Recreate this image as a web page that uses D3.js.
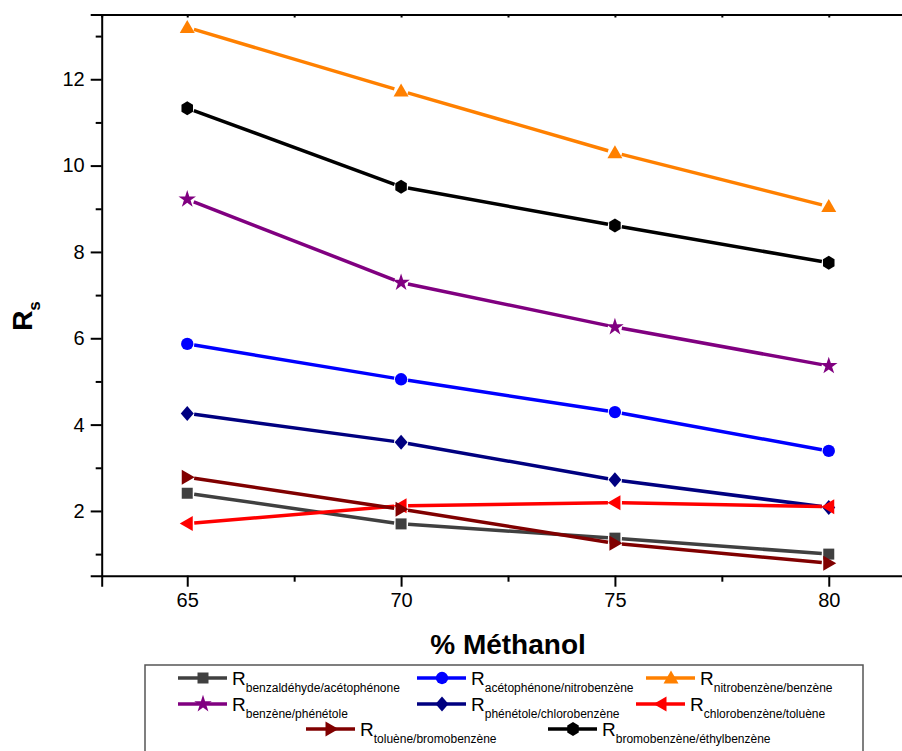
<!DOCTYPE html>
<html>
<head>
<meta charset="utf-8">
<script src="https://cdn.jsdelivr.net/npm/d3@7"></script>
<style>
  html, body { margin: 0; padding: 0; background: #fff; }
  svg { display: block; font-family: "Liberation Sans", Arial, sans-serif; }
</style>
</head>
<body>
<svg id="chart" width="902" height="751"></svg>
<script>
// ---- data ----
const methanol = [65, 70, 75, 80];
const xMajorTicks = [65, 70, 75, 80];
const xMinorTicks = [67.5, 72.5, 77.5];
const yMajorTicks = [2, 4, 6, 8, 10, 12];
const yMinorTicks = [1, 3, 5, 7, 9, 11, 13];

const seriesNames = [
  "benzaldéhyde/acétophénone",
  "acétophénone/nitrobenzène",
  "nitrobenzène/benzène",
  "benzène/phénétole",
  "phénétole/chlorobenzène",
  "chlorobenzène/toluène",
  "toluène/bromobenzène",
  "bromobenzène/éthylbenzène"
];
const rsBenzaldehydeAcetophenone = [2.41, 1.70, 1.37, 1.00];
const rsAcetophenoneNitrobenzene = [5.87, 5.05, 4.29, 3.39];
const rsNitrobenzeneBenzene      = [13.20, 11.73, 10.30, 9.05];
const rsBenzenePhenetole         = [9.22, 7.29, 6.26, 5.36];
const rsPhenetoleChlorobenzene   = [4.26, 3.59, 2.72, 2.08];
const rsChlorobenzeneToluene     = [1.71, 2.12, 2.19, 2.10];
const rsTolueneBromobenzene      = [2.78, 2.04, 1.25, 0.79];
const rsBromobenzeneEthylbenzene = [11.33, 9.51, 8.61, 7.75];

const seriesValues = [
  rsBenzaldehydeAcetophenone, rsAcetophenoneNitrobenzene, rsNitrobenzeneBenzene,
  rsBenzenePhenetole, rsPhenetoleChlorobenzene, rsChlorobenzeneToluene,
  rsTolueneBromobenzene, rsBromobenzeneEthylbenzene
];

// ---- styles ----
const colors = ["#404040", "#0000ff", "#ff8000", "#800080", "#000080", "#ff0000", "#800000", "#000000"];
const shapes = ["square", "circle", "triUp", "star", "diamond", "triLeft", "triRight", "hexagon"];

// ---- layout ----
const svg = d3.select("#chart");
const x = d3.scaleLinear().domain([63, 82]).range([101.7, 914.3]);
const y = d3.scaleLinear().domain([0.5, 13.5]).range([575.7, 14.5]);

function markerPath(shape) {
  switch (shape) {
    case "square": return "M-5.5,-5.5H5.5V5.5H-5.5Z";
    case "circle": return d3.symbol(d3.symbolCircle, 120)();
    case "triUp": return "M0,-7.5L7.5,5.5L-7.5,5.5Z";
    case "triLeft": return "M-7.5,0L5.5,-7.5L5.5,7.5Z";
    case "triRight": return "M7.5,0L-5.5,-7.5L-5.5,7.5Z";
    case "diamond": return "M0,-7.5L6.5,0L0,7.5L-6.5,0Z";
    case "star": return d3.symbol(d3.symbolStar, 95)();
    case "hexagon": {
      const r = 7;
      const pts = d3.range(6).map(i => {
        const a = Math.PI / 3 * i - Math.PI / 2;
        return [r * Math.cos(a) * 0.95, r * Math.sin(a)];
      });
      return "M" + pts.map(p => p.join(",")).join("L") + "Z";
    }
  }
}

// ---- axes ----
const axisColor = "#000";
function styleAxis(g) {
  g.select(".domain").attr("stroke", axisColor).attr("stroke-width", 2);
  g.selectAll(".tick line").attr("stroke", axisColor).attr("stroke-width", 2);
  g.selectAll(".tick text").attr("fill", "#000").style("font-size", "20px")
    .style("font-family", "'Liberation Sans', Arial, sans-serif");
}

// bottom axis major
const gx = svg.append("g").attr("transform", "translate(0,575.7)")
  .call(d3.axisBottom(x).tickValues(xMajorTicks).tickSize(11).tickPadding(6).tickFormat(d3.format("d")));
styleAxis(gx);
// bottom minor
const gxm = svg.append("g").attr("transform", "translate(0,575.7)")
  .call(d3.axisBottom(x).tickValues(xMinorTicks).tickSize(6).tickFormat(""));
styleAxis(gxm);
gxm.select(".domain").remove();

// top axis
const gt = svg.append("g").attr("transform", "translate(0,14.5)")
  .call(d3.axisTop(x).tickValues(xMajorTicks.concat(xMinorTicks)).tickSize(-3).tickFormat(""));
styleAxis(gt);

// left axis major
const gy = svg.append("g").attr("transform", "translate(101.7,0)")
  .call(d3.axisLeft(y).tickValues(yMajorTicks).tickSize(11).tickPadding(6).tickFormat(d3.format("d")));
styleAxis(gy);
const gym = svg.append("g").attr("transform", "translate(101.7,0)")
  .call(d3.axisLeft(y).tickValues(yMinorTicks).tickSize(6).tickFormat(""));
styleAxis(gym);
gym.select(".domain").remove();

// axis titles
svg.append("text")
  .attr("x", 508).attr("y", 654)
  .attr("text-anchor", "middle")
  .style("font-size", "28px").style("font-weight", "bold")
  .text("% Méthanol");

const ylab = svg.append("text")
  .attr("transform", "translate(32,316) rotate(-90)")
  .attr("text-anchor", "middle")
  .style("font-size", "28px").style("font-weight", "bold");
ylab.append("tspan").text("R");
ylab.append("tspan").attr("dy", 8).style("font-size", "17px").text("s");

// ---- series ----
const gap = 7;
seriesValues.forEach((vals, si) => {
  const pts = vals.map((v, i) => [x(methanol[i]), y(v)]);
  const g = svg.append("g");
  for (let i = 0; i < pts.length - 1; i++) {
    const [x1, y1] = pts[i], [x2, y2] = pts[i + 1];
    const dx = x2 - x1, dy = y2 - y1, len = Math.hypot(dx, dy);
    const ux = dx / len, uy = dy / len;
    g.append("line")
      .attr("x1", x1 + ux * gap).attr("y1", y1 + uy * gap)
      .attr("x2", x2 - ux * gap).attr("y2", y2 - uy * gap)
      .attr("stroke", colors[si]).attr("stroke-width", 3.5);
  }
  g.selectAll("path.m").data(pts).enter().append("path")
    .attr("class", "m")
    .attr("d", markerPath(shapes[si]))
    .attr("transform", d => `translate(${d[0]},${d[1]})`)
    .attr("fill", colors[si]);
});

// ---- legend ----
svg.append("rect")
  .attr("x", 145).attr("y", 665).attr("width", 718).attr("height", 120)
  .attr("fill", "none").attr("stroke", "#555").attr("stroke-width", 1.5);

const legendPos = [
  [178, 678], [417, 678], [646, 678],
  [178, 704], [417, 704], [636, 704],
  [306, 729], [548, 729]
];
seriesNames.forEach((name, si) => {
  const [lx, ly] = legendPos[si];
  const g = svg.append("g").attr("transform", `translate(${lx},${ly})`);
  g.append("line").attr("x1", 0).attr("x2", 49).attr("y1", 0).attr("y2", 0)
    .attr("stroke", colors[si]).attr("stroke-width", 3.5);
  g.append("path").attr("d", markerPath(shapes[si]))
    .attr("transform", "translate(25,0)").attr("fill", colors[si]);
  const t = g.append("text").attr("x", 54).attr("y", 7).style("font-size", "19px");
  t.append("tspan").text("R");
  t.append("tspan").attr("dy", 7).style("font-size", "12px").text(name);
});
</script>
</body>
</html>
